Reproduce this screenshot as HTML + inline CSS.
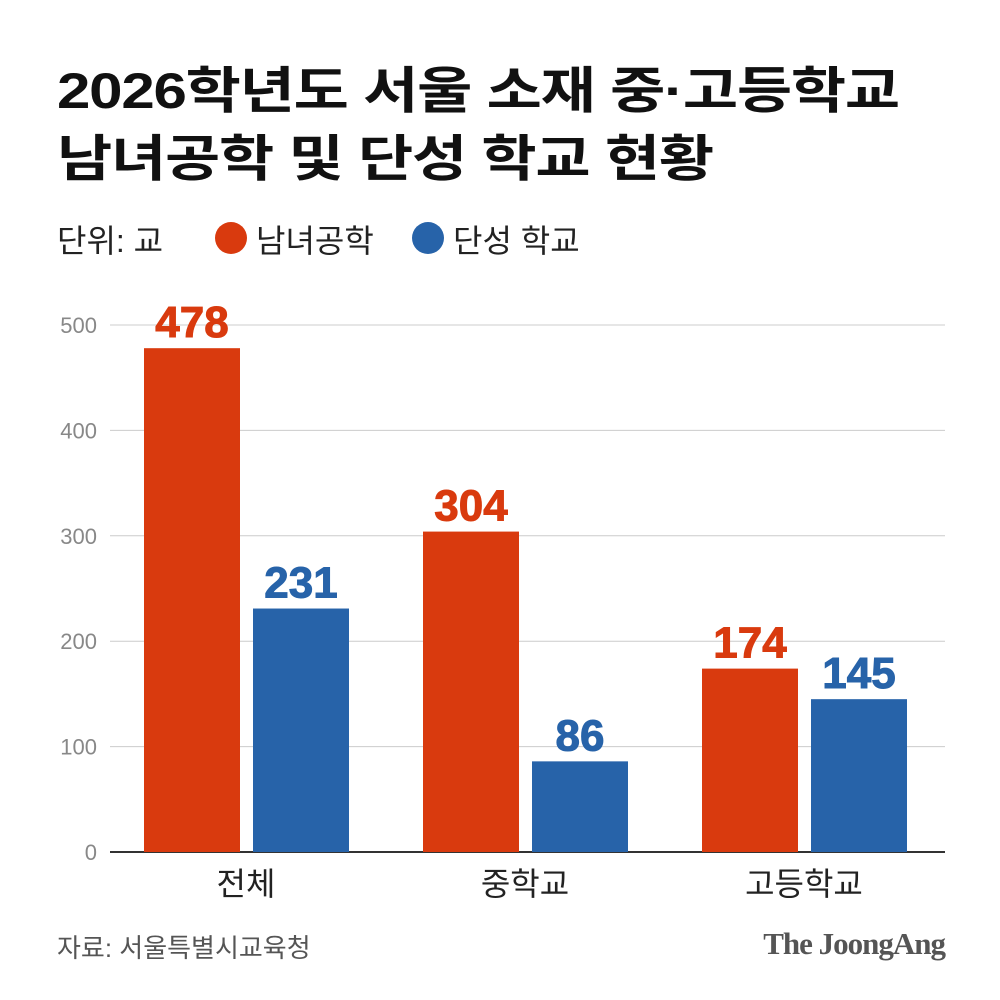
<!DOCTYPE html>
<html><head><meta charset="utf-8">
<style>
body{margin:0;width:1000px;height:1000px;background:#fff;overflow:hidden;font-family:"Liberation Sans","Noto Sans CJK KR",sans-serif;}
.t{position:absolute;left:57px;font-size:50px;font-weight:bold;color:#111;letter-spacing:-1px;line-height:1;transform:scaleX(1.2);transform-origin:left top;white-space:nowrap;}
.leg{position:absolute;top:216px;font-size:32px;color:#222;}
.dot{position:absolute;top:222px;width:32px;height:32px;border-radius:50%;}
</style></head><body>
<div class="t" style="top:66px">2026학년도 서울 소재 중·고등학교</div>
<div class="t" style="top:134px">남녀공학 및 단성 학교 현황</div>
<div class="leg" style="left:57px">단위: 교</div>
<div class="dot" style="left:215px;background:#d93a0e"></div>
<div class="leg" style="left:256px">남녀공학</div>
<div class="dot" style="left:412px;background:#2763a9"></div>
<div class="leg" style="left:453px">단성 학교</div>
<svg id="chart" width="1000" height="1000" style="position:absolute;left:0;top:0"></svg>
<div style="position:absolute;left:57px;top:928px;font-size:26px;color:#555">자료: 서울특별시교육청</div>
<div style="position:absolute;right:55px;top:926px;font-size:31px;font-weight:bold;color:#555;font-family:'Liberation Serif',serif;letter-spacing:-1px">The JoongAng</div>
<script>
const categories=["전체","중학교","고등학교"];
const coed=[478,304,174];
const single=[231,86,145];
const ticks=[0,100,200,300,400,500];
const svg=document.getElementById('chart');
const NS='http://www.w3.org/2000/svg';
const y0=852,pxPer=527/500;
const y=v=>y0-v*pxPer;
const groupX=i=>144+i*279;
function mk(tag,attrs,txt){const e=document.createElementNS(NS,tag);for(const k in attrs)e.setAttribute(k,attrs[k]);if(txt!==undefined)e.textContent=txt;svg.appendChild(e);return e;}
ticks.forEach(t=>{
 const l=mk('line',{x1:110,x2:945,y1:y(t),y2:y(t),stroke:t===0?'#333':'#ccc','stroke-width':t===0?2:1});
 
 
 const tx=mk('text',{x:97,y:y(t)+8,'text-anchor':'end','font-size':22,fill:'#888','font-family':'Liberation Sans, sans-serif'},t);
 
 
});
categories.forEach((c,i)=>{
 const gx=groupX(i);
 [[coed[i],'#d93a0e',0,'coed'],[single[i],'#2763a9',109,'single']].forEach(([v,col,off,nm])=>{
  const r=mk('rect',{x:gx+off,y:y(v),width:96,height:v*pxPer,fill:col});
  
  
  const tx=mk('text',{x:gx+off+48,y:y(v)-11,'text-anchor':'middle','font-size':44,'font-weight':'bold',fill:col,stroke:col,'stroke-width':1},v);
  
  
 });
 const cl=mk('text',{x:gx+102,y:895,'text-anchor':'middle','font-size':32,fill:'#222','font-family':'Liberation Sans, Noto Sans CJK KR, sans-serif'},c);
 
 
});
</script>
</body></html>
